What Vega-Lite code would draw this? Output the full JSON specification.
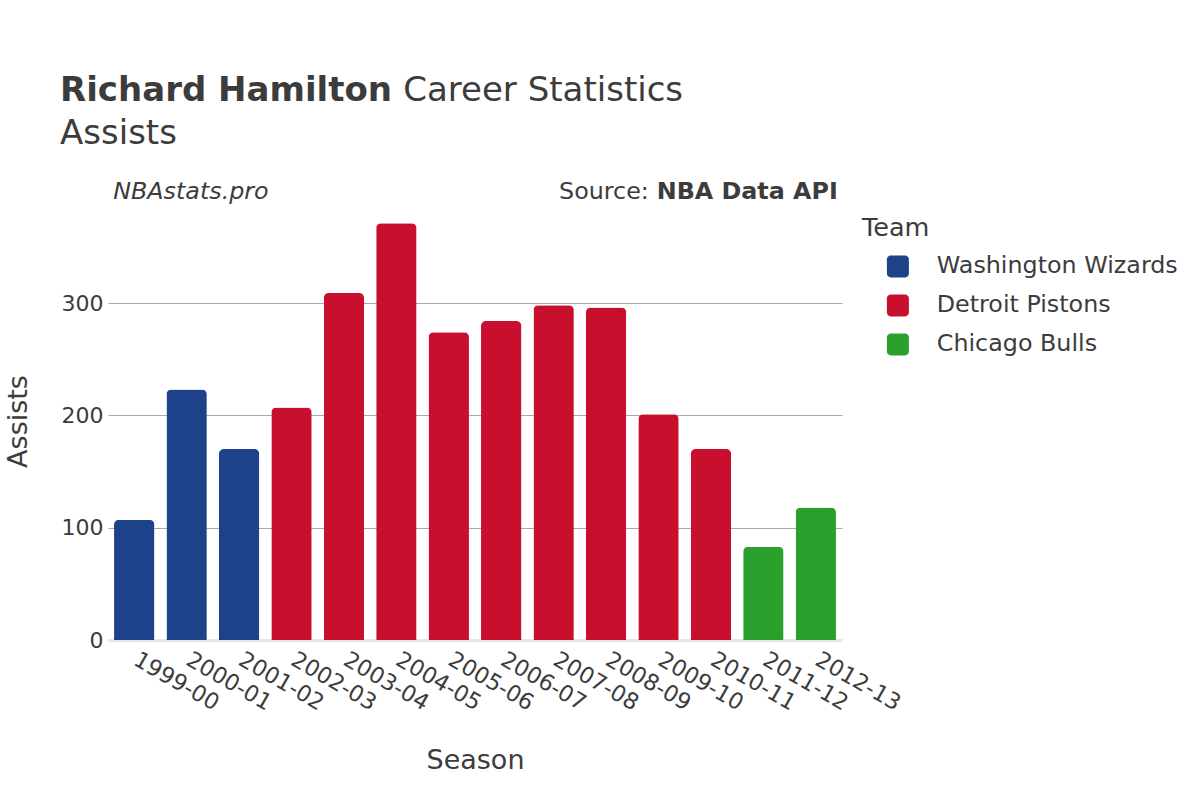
{
  "$schema": "https://vega.github.io/schema/vega-lite/v6.json",
  "width": 734,
  "height": 438,
  "autosize": {"type": "none"},
  "padding": {"left": 108, "top": 202, "right": 358, "bottom": 160},
  "background": "white",
  "config": {
    "font": "DejaVu Sans",
    "view": {"stroke": null},
    "text": {"color": "#3c3c3c"}
  },
  "title": {
    "text": "Richard Hamilton",
    "subtitle": "Assists",
    "anchor": "start",
    "frame": "group",
    "dx": -48,
    "offset": -77,
    "font": "DejaVu Sans",
    "fontSize": 34,
    "fontWeight": "bold",
    "color": "#3c3c3c",
    "subtitleFont": "DejaVu Sans",
    "subtitleFontSize": 34,
    "subtitleFontWeight": "normal",
    "subtitleColor": "#3c3c3c",
    "subtitlePadding": 9
  },
  "datasets": {
    "stats": [
      {"season": "1999-00", "team": "Washington Wizards", "assists": 107},
      {"season": "2000-01", "team": "Washington Wizards", "assists": 223},
      {"season": "2001-02", "team": "Washington Wizards", "assists": 170},
      {"season": "2002-03", "team": "Detroit Pistons", "assists": 207},
      {"season": "2003-04", "team": "Detroit Pistons", "assists": 309},
      {"season": "2004-05", "team": "Detroit Pistons", "assists": 371},
      {"season": "2005-06", "team": "Detroit Pistons", "assists": 274},
      {"season": "2006-07", "team": "Detroit Pistons", "assists": 284},
      {"season": "2007-08", "team": "Detroit Pistons", "assists": 298},
      {"season": "2008-09", "team": "Detroit Pistons", "assists": 296},
      {"season": "2009-10", "team": "Detroit Pistons", "assists": 201},
      {"season": "2010-11", "team": "Detroit Pistons", "assists": 170},
      {"season": "2011-12", "team": "Chicago Bulls", "assists": 83},
      {"season": "2012-13", "team": "Chicago Bulls", "assists": 118}
    ]
  },
  "layer": [
    {
      "data": {"name": "stats"},
      "mark": {"type": "bar", "cornerRadiusTopLeft": 5, "cornerRadiusTopRight": 5},
      "encoding": {
        "x": {
          "field": "season",
          "type": "nominal",
          "sort": null,
          "scale": {"paddingInner": 0.23, "paddingOuter": 0.115},
          "axis": {
            "title": "Season",
            "titleFontSize": 27,
            "titleFontWeight": "normal",
            "titleColor": "#3c3c3c",
            "titlePadding": 33,
            "labelAngle": 30,
            "labelFontSize": 22.5,
            "labelColor": "#3c3c3c",
            "labelPadding": 8,
            "labelOffset": 7,
            "ticks": false,
            "domainColor": "#e6e6e6",
            "domainWidth": 3
          }
        },
        "y": {
          "field": "assists",
          "type": "quantitative",
          "scale": {"domain": [0, 390], "nice": false},
          "axis": {
            "title": "Assists",
            "titleFontSize": 27,
            "titleFontWeight": "normal",
            "titleColor": "#3c3c3c",
            "titlePadding": 29,
            "labelFontSize": 22,
            "labelColor": "#3c3c3c",
            "labelPadding": 5,
            "values": [0, 100, 200, 300],
            "ticks": false,
            "domain": false,
            "gridColor": "#a8a8a8",
            "gridOpacity": {"condition": {"test": "datum.value === 0", "value": 0}, "value": 1}
          }
        },
        "color": {
          "field": "team",
          "type": "nominal",
          "scale": {
            "domain": ["Washington Wizards", "Detroit Pistons", "Chicago Bulls"],
            "range": ["#1d428a", "#c8102e", "#2ca02c"]
          },
          "legend": {
            "title": "Team",
            "orient": "right",
            "titleFontSize": 25.5,
            "titleFontWeight": "normal",
            "titleColor": "#3c3c3c",
            "titlePadding": 13,
            "labelFontSize": 23.8,
            "labelColor": "#3c3c3c",
            "labelLimit": 400,
            "symbolType": "M-0.65,-1H0.65A0.35,0.35 0 0 1 1,-0.65V0.65A0.35,0.35 0 0 1 0.65,1H-0.65A0.35,0.35 0 0 1 -1,0.65V-0.65A0.35,0.35 0 0 1 -0.65,-1Z",
            "symbolSize": 484,
            "symbolStrokeWidth": 0,
            "symbolOpacity": 1,
            "symbolOffset": 24,
            "labelOffset": 27,
            "rowPadding": 14,
            "offset": 6,
            "padding": 14
          }
        }
      }
    },
    {
      "data": {"values": [{"label": "NBAstats.pro"}]},
      "mark": {"type": "text", "align": "left", "baseline": "alphabetic", "fontSize": 23.8, "fontStyle": "italic", "dx": -21, "dy": -3},
      "encoding": {
        "x": {"datum": "1999-00", "type": "nominal"},
        "y": {"datum": 390, "type": "quantitative"},
        "text": {"field": "label"}
      }
    },
    {
      "data": {"values": [{"label": "NBA Data API"}]},
      "mark": {"type": "text", "align": "right", "baseline": "alphabetic", "fontSize": 23.8, "fontWeight": "bold", "dx": 22, "dy": -3},
      "encoding": {
        "x": {"datum": "2012-13", "type": "nominal"},
        "y": {"datum": 390, "type": "quantitative"},
        "text": {"field": "label"}
      }
    },
    {
      "data": {"values": [{"label": "Source:"}]},
      "mark": {"type": "text", "align": "right", "baseline": "alphabetic", "fontSize": 23.8, "dx": -167, "dy": -3},
      "encoding": {
        "x": {"datum": "2012-13", "type": "nominal"},
        "y": {"datum": 390, "type": "quantitative"},
        "text": {"field": "label"}
      }
    },
    {
      "data": {"values": [{"label": "Career Statistics"}]},
      "mark": {"type": "text", "align": "left", "baseline": "alphabetic", "fontSize": 34, "dx": 269, "dy": -101},
      "encoding": {
        "x": {"datum": "1999-00", "type": "nominal"},
        "y": {"datum": 390, "type": "quantitative"},
        "text": {"field": "label"}
      }
    }
  ]
}
